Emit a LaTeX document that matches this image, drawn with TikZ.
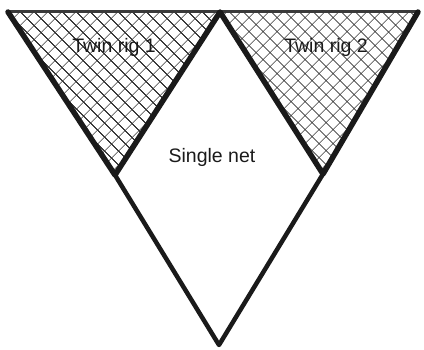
\documentclass[tikz,border=0pt]{standalone}
\usepackage{fontspec}
\setmainfont{Liberation Sans}
\usetikzlibrary{patterns.meta}
\definecolor{netink}{HTML}{1A1A1A}
\definecolor{netrim}{HTML}{3A3A3A}
\tikzset{
  rig/.style={pattern={Hatch[distance=10.5pt, angle=45, line width=0.9pt]}, pattern color=netink!85},
  edge/.style={draw=netink, line width=5.5pt, line cap=round, line join=round},
  lowedge/.style={draw=netink, line width=4.5pt, line cap=round, line join=round},
  rim/.style={draw=netrim, line width=3pt},
  lbl/.style={anchor=base, text=netink, font=\fontsize{19.5}{22}\selectfont},
}
\begin{document}
\begin{tikzpicture}[x=1pt, y=-1pt]
    \useasboundingbox (0,0) rectangle (424,350);
    \coordinate (tl) at (8,12);
    \coordinate (tm) at (220,12);
    \coordinate (tr) at (418,12);
    \coordinate (al) at (115,175);
    \coordinate (ar) at (323,174);
    \coordinate (bo) at (219,345);
    % twin rig fills
    \fill[rig] (tl) -- (tm) -- (al) -- cycle;
    \fill[rig] (tm) -- (tr) -- (ar) -- cycle;
    % outlines
    \draw[rim] (tl) -- (tr);
    \draw[edge] (tl) -- (al) -- (tm) -- (ar) -- (tr);
    \draw[lowedge] (al) -- (bo) -- (ar);
    % labels
    \node[lbl] (rig1) at (114,53) {Twin rig 1};
    \node[lbl] (rig2) at (326,53) {Twin rig 2};
    \node[lbl] (net) at (212,163) {Single net};
\end{tikzpicture}
\end{document}
